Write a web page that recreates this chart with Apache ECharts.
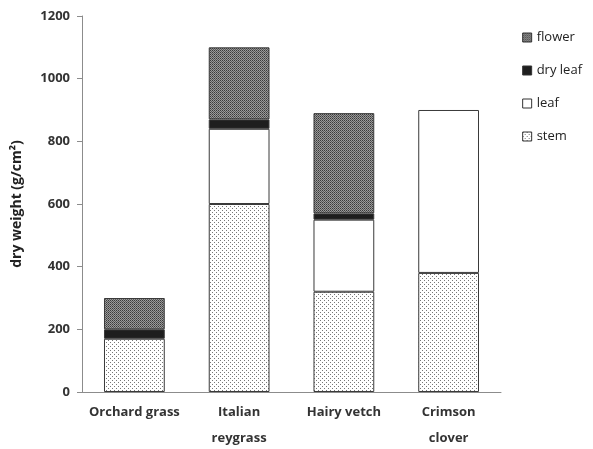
<!DOCTYPE html>
<html>
<head>
<meta charset="utf-8">
<script src="https://cdn.jsdelivr.net/npm/echarts@6/dist/echarts.min.js"></script>
<style>
  html, body { margin: 0; padding: 0; background: #fff; }
  #chart { width: 593px; height: 449px; }
</style>
</head>
<body>
<div id="chart"></div>
<script>
// Dry weight by plant part for four cover crops
const categories = ['Orchard grass', 'Italian\nreygrass', 'Hairy vetch', 'Crimson\nclover'];
const stem    = [170, 600, 320, 380];
const leaf    = [0, 240, 230, 520];
const dryLeaf = [30, 30, 20, 0];
const flower  = [100, 230, 320, 0];
const yTicks  = [0, 200, 400, 600, 800, 1000, 1200];

// Small tiled fills for the stacked segments
function makePattern(size, bg, dots) {
  const c = document.createElement('canvas');
  c.width = size; c.height = size;
  const g = c.getContext('2d');
  g.fillStyle = bg;
  g.fillRect(0, 0, size, size);
  dots.forEach(([x, y, col]) => { g.fillStyle = col; g.fillRect(x, y, 1, 1); });
  return { image: c, repeat: 'repeat' };
}
const stemFill = makePattern(4, '#ffffff', [[0, 0, '#777'], [2, 2, '#777']]);
const flowerFill = makePattern(2, '#9a9a9a', [[0, 0, '#3a3a3a'], [1, 1, '#5a5a5a']]);
const dryLeafFill = '#1e1e1e';
const leafFill = '#ffffff';

const font = '"Open Sans", "Noto Sans", sans-serif';
const border = { borderColor: '#3a3a3a', borderWidth: 1 };

// Empty parts (0) are left out so they draw no outline
function seg(name, data, fill) {
  return {
    name, type: 'bar', stack: 'total',
    data: data.map(v => (v === 0 ? '-' : v)),
    barWidth: '58%',
    itemStyle: Object.assign({ color: fill }, border),
    emphasis: { disabled: true }
  };
}

const chart = echarts.init(document.getElementById('chart'), null, { renderer: 'canvas' });
chart.setOption({
  animation: false,
  backgroundColor: '#fff',
  grid: { left: 82, right: 92, top: 16, bottom: 57, outerBoundsMode: 'none', containLabel: false },
  legend: {
    orient: 'vertical',
    right: 6, top: 26,
    itemWidth: 9, itemHeight: 9,
    itemGap: 20,
    icon: 'rect',
    data: ['flower', 'dry leaf', 'leaf', 'stem'],
    textStyle: { fontFamily: font, fontSize: 13, color: '#222' },
    itemStyle: { borderColor: '#333', borderWidth: 1 }
  },
  xAxis: {
    type: 'category',
    data: categories,
    axisLine: { lineStyle: { color: '#8c8c8c', width: 1 } },
    axisTick: { show: false },
    axisLabel: {
      fontFamily: font, fontWeight: 'bold', fontSize: 13, color: '#333',
      margin: 7, lineHeight: 26, interval: 0
    }
  },
  yAxis: {
    type: 'value',
    min: 0, max: 1200, interval: 200,
    name: 'dry weight (g/cm²)',
    nameLocation: 'middle',
    nameGap: 58,
    nameTextStyle: { fontFamily: font, fontWeight: 'bold', fontSize: 14, color: '#222' },
    axisLine: { show: true, lineStyle: { color: '#8c8c8c', width: 1 } },
    axisTick: { show: true, length: 5, lineStyle: { color: '#8c8c8c' } },
    splitLine: { show: false },
    axisLabel: {
      fontFamily: font, fontWeight: 'bold', fontSize: 13, color: '#333', margin: 12,
      formatter: v => yTicks.includes(v) ? String(v) : ''
    }
  },
  series: [
    seg('stem', stem, stemFill),
    seg('leaf', leaf, leafFill),
    seg('dry leaf', dryLeaf, dryLeafFill),
    seg('flower', flower, flowerFill)
  ]
});
</script>
</body>
</html>
